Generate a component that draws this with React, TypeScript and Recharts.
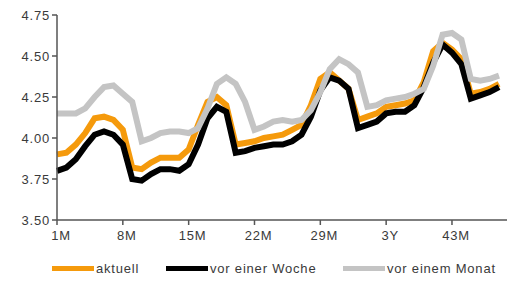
import { LineChart, Line, XAxis, YAxis, Legend } from 'recharts';

const months = [
  '1M', '2M', '3M', '4M', '5M', '6M', '7M', '8M', '9M', '10M', '11M', '12M',
  '13M', '14M', '15M', '16M', '17M', '18M', '19M', '20M', '21M', '22M', '23M', '24M',
  '25M', '26M', '27M', '28M', '29M', '30M', '31M', '32M', '33M', '34M', '35M', '3Y',
  '37M', '38M', '39M', '40M', '41M', '42M', '43M', '44M', '45M', '46M', '47M', '48M',
];

const aktuell = [
  3.90, 3.91, 3.96, 4.03, 4.12, 4.13, 4.11, 4.05, 3.82, 3.81, 3.85, 3.88,
  3.88, 3.88, 3.93, 4.08, 4.22, 4.25, 4.20, 3.96, 3.97, 3.98, 4.00, 4.01,
  4.02, 4.05, 4.08, 4.20, 4.36, 4.40, 4.35, 4.30, 4.11, 4.13, 4.15, 4.19,
  4.20, 4.21, 4.23, 4.34, 4.53, 4.58, 4.54, 4.48, 4.27, 4.28, 4.30, 4.33,
];

const vorWoche = [
  3.80, 3.82, 3.87, 3.95, 4.02, 4.04, 4.02, 3.96, 3.75, 3.74, 3.78, 3.81,
  3.81, 3.80, 3.84, 3.96, 4.12, 4.19, 4.16, 3.91, 3.92, 3.94, 3.95, 3.96,
  3.96, 3.98, 4.02, 4.13, 4.29, 4.37, 4.35, 4.30, 4.06, 4.08, 4.10, 4.15,
  4.16, 4.16, 4.20, 4.31, 4.46, 4.57, 4.52, 4.45, 4.24, 4.26, 4.28, 4.31,
];

const vorMonat = [
  4.15, 4.15, 4.15, 4.18, 4.25, 4.31, 4.32, 4.27, 4.22, 3.98, 4.00, 4.03,
  4.04, 4.04, 4.03, 4.06, 4.18, 4.33, 4.37, 4.33, 4.22, 4.05, 4.07, 4.10,
  4.11, 4.10, 4.11, 4.17, 4.28, 4.42, 4.48, 4.45, 4.40, 4.19, 4.20, 4.23,
  4.24, 4.25, 4.27, 4.30, 4.44, 4.63, 4.64, 4.60, 4.36, 4.35, 4.36, 4.38,
];

const yTicks = [3.5, 3.75, 4.0, 4.25, 4.5, 4.75];

const data = months.map((m, i) => ({
  m,
  aktuell: aktuell[i],
  woche: vorWoche[i],
  monat: vorMonat[i],
}));

const series = [
  { key: 'aktuell', name: 'aktuell', color: '#F59A0C' },
  { key: 'woche', name: 'vor einer Woche', color: '#000000' },
  { key: 'monat', name: 'vor einem Monat', color: '#C4C4C4' },
];

const FONT = { fontFamily: 'Liberation Sans, Arial, sans-serif', fontSize: 13, letterSpacing: 0.8 };

function LegendContent() {
  const slots = [52, 166, 343];
  return (
    <div style={{ position: 'relative', height: 30, width: 510, ...FONT, color: '#3a3a3a' }}>
      {series.map((s, i) => (
        <div
          key={s.key}
          style={{ position: 'absolute', left: slots[i], top: 9, display: 'flex', alignItems: 'center' }}
        >
          <div style={{ width: 42, height: 5, background: s.color, marginRight: 2 }} />
          <span>{s.name}</span>
        </div>
      ))}
    </div>
  );
}

export default function App() {
  return (
    <div style={{ position: 'absolute', left: 0, top: 0, background: '#fff' }}>
      <LineChart width={510} height={282} data={data} margin={{ top: 15, right: 3, bottom: 0, left: 0 }}>
        <XAxis
          dataKey="m"
          interval={6}
          height={32}
          tick={{ ...FONT, fill: '#3a3a3a', dx: 4, dy: 4 }}
          tickSize={5}
          axisLine={{ stroke: '#555', strokeWidth: 1.5 }}
          tickLine={{ stroke: '#555', strokeWidth: 1.5 }}
          padding={{ left: 0, right: 8 }}
        />
        <YAxis
          domain={[3.5, 4.75]}
          ticks={yTicks}
          width={57}
          tickFormatter={(v: number) => v.toFixed(2)}
          tick={{ ...FONT, fill: '#3a3a3a' }}
          tickSize={5}
          axisLine={{ stroke: '#555', strokeWidth: 1.5 }}
          tickLine={{ stroke: '#555', strokeWidth: 1.5 }}
        />
        <Legend verticalAlign="bottom" height={30} content={<LegendContent />} />
        {series.map((s) => (
          <Line
            key={s.key}
            dataKey={s.key}
            name={s.name}
            stroke={s.color}
            strokeWidth={6}
            dot={false}
            activeDot={false}
            isAnimationActive={false}
          />
        ))}
      </LineChart>
    </div>
  );
}
